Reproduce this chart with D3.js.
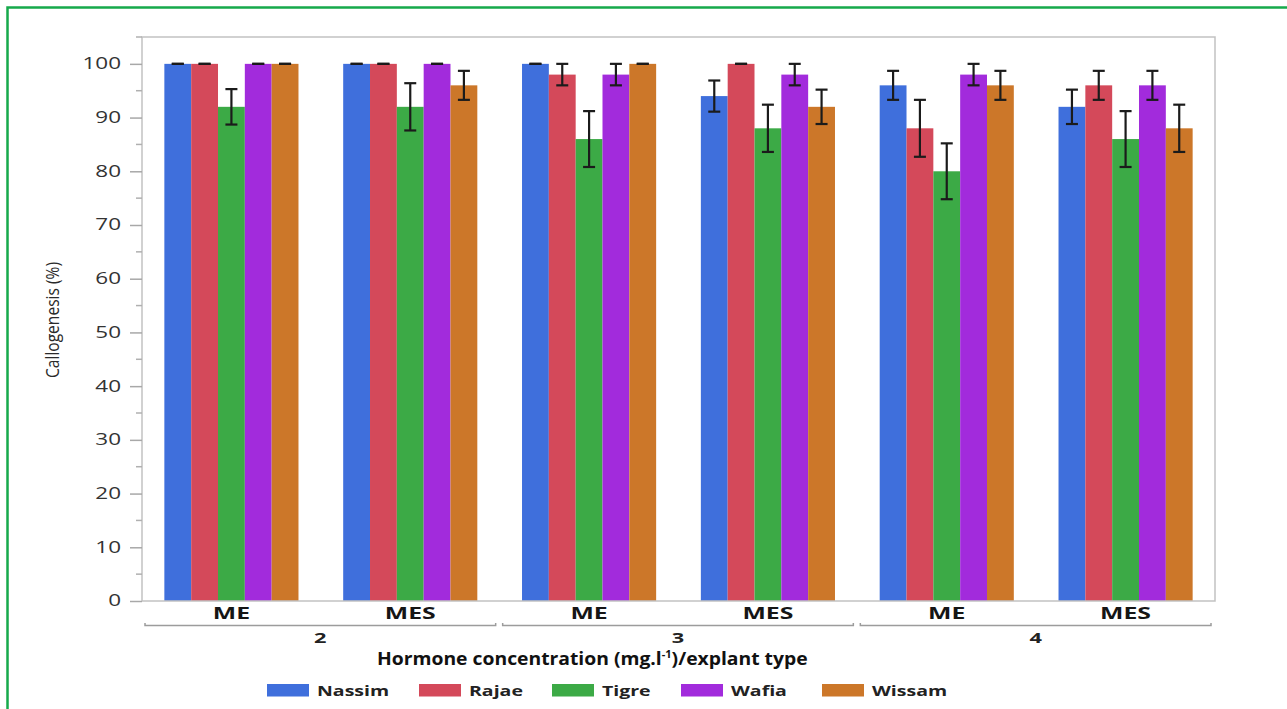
<!DOCTYPE html>
<html>
<head>
<meta charset="utf-8">
<script src="https://cdn.jsdelivr.net/npm/d3@7"></script>
<style>
  html, body { margin: 0; padding: 0; background: #fff; }
  svg { display: block; }
</style>
</head>
<body>
<svg id="chart" width="1287" height="709"></svg>
<script>
// ---------------- DATA ----------------
const categoryLabels = ["ME", "MES", "ME", "MES", "ME", "MES"];
const categoryGroups = ["2", "2", "3", "3", "4", "4"];
const groups = ["2", "3", "4"];
const seriesNames = ["Nassim", "Rajae", "Tigre", "Wafia", "Wissam"];

const nassim = [100, 100, 100, 94, 96, 92];
const rajae  = [100, 100, 98, 100, 88, 96];
const tigre  = [92, 92, 86, 88, 80, 86];
const wafia  = [100, 100, 98, 98, 98, 96];
const wissam = [100, 96, 100, 92, 96, 88];

const nassimErr = [0, 0, 0, 2.9, 2.7, 3.2];
const rajaeErr  = [0, 0, 2, 0, 5.3, 2.7];
const tigreErr  = [3.3, 4.4, 5.2, 4.4, 5.2, 5.2];
const wafiaErr  = [0, 0, 2, 2, 2, 2.7];
const wissamErr = [0, 2.7, 0, 3.2, 2.7, 4.4];

const yTicks = [0, 10, 20, 30, 40, 50, 60, 70, 80, 90, 100];
const yMinorTicks = [5, 15, 25, 35, 45, 55, 65, 75, 85, 95, 105];

const yTitle = "Callogenesis (%)";
const xTitleA = "Hormone concentration (mg.l";
const xTitleSup = "-1";
const xTitleB = ")/explant type";

// --------------- LAYOUT / STYLE ---------------
(function () {
const colors = ["#3f6fdc", "#d4495a", "#3caa46", "#a22bdc", "#cc7729"];
const valuesBySeries = [nassim, rajae, tigre, wafia, wissam];
const errBySeries = [nassimErr, rajaeErr, tigreErr, wafiaErr, wissamErr];

const svg = d3.select("#chart");
const pL = 142, pR = 1215, pT = 37, pB = 601;
const FONT = "'Open Sans', 'DejaVu Sans', sans-serif";

function stretch(sel, f) {
  sel.each(function () {
    const w = this.getComputedTextLength();
    d3.select(this).attr("textLength", w * f).attr("lengthAdjust", "spacingAndGlyphs");
  });
}

// green outer frame
svg.append("rect")
  .attr("x", 7.5).attr("y", 7.5).attr("width", 1320).attr("height", 740)
  .attr("fill", "none").attr("stroke", "#16a94b").attr("stroke-width", 2.5);

const x0 = d3.scaleBand().domain(d3.range(categoryLabels.length))
  .range([pL, pR]).paddingInner(0.25).paddingOuter(0.125);
const x1 = d3.scaleBand().domain(d3.range(seriesNames.length))
  .range([0, x0.bandwidth()]).padding(0);
const y = d3.scaleLinear().domain([0, 105]).range([pB, pT]);

// bars
const gBars = svg.append("g");
valuesBySeries.forEach((vals, s) => {
  gBars.selectAll(null).data(vals).enter().append("rect")
    .attr("x", (d, i) => x0(i) + x1(s))
    .attr("y", d => y(d))
    .attr("width", x1.bandwidth())
    .attr("height", d => y(0) - y(d))
    .attr("fill", colors[s]);
});

// error bars
const capW = 12;
const gErr = svg.append("g").attr("stroke", "#1b1b1b").attr("stroke-width", 2.2);
valuesBySeries.forEach((vals, s) => {
  const errs = errBySeries[s];
  vals.forEach((v, i) => {
    const cx = x0(i) + x1(s) + x1.bandwidth() / 2;
    const hi = y(v + errs[i]), lo = y(v - errs[i]);
    gErr.append("line").attr("x1", cx).attr("x2", cx).attr("y1", hi).attr("y2", lo);
    gErr.append("line").attr("x1", cx - capW / 2).attr("x2", cx + capW / 2).attr("y1", hi).attr("y2", hi);
    gErr.append("line").attr("x1", cx - capW / 2).attr("x2", cx + capW / 2).attr("y1", lo).attr("y2", lo);
  });
});

// frame (axes box)
const frame = svg.append("g").attr("stroke", "#c2c2c2").attr("stroke-width", 1.5).attr("fill", "none");
frame.append("path").attr("d", `M${pL},${pT}H${pR}V${pB}H${pL}Z`);

// y axis
const yAxis = svg.append("g").attr("transform", `translate(${pL},0)`)
  .call(d3.axisLeft(y).tickValues(yTicks).tickSize(12).tickSizeOuter(0).tickPadding(9));
yAxis.select(".domain").remove();
yAxis.selectAll(".tick line").attr("stroke", "#a8a8a8").attr("stroke-width", 1.5);
yAxis.selectAll(".tick text")
  .attr("font-family", FONT).attr("font-size", 15.5).attr("fill", "#333")
  .call(stretch, 1.45);
svg.append("g").selectAll("line").data(yMinorTicks).enter().append("line")
  .attr("x1", pL - 6).attr("x2", pL)
  .attr("y1", d => y(d)).attr("y2", d => y(d))
  .attr("stroke", "#b0b0b0").attr("stroke-width", 1.5);

// category labels
svg.append("g").selectAll("text").data(categoryLabels).enter().append("text")
  .attr("x", (d, i) => x0(i) + x0.bandwidth() / 2)
  .attr("y", 619)
  .attr("text-anchor", "middle")
  .attr("font-family", FONT).attr("font-weight", 700).attr("font-size", 15.5)
  .attr("fill", "#151515")
  .text(d => d)
  .call(stretch, 1.6);

// group brackets
const step = x0.step();
groups.forEach((g) => {
  const idx = categoryGroups.map((c, i) => c === g ? i : -1).filter(i => i >= 0);
  const xa = pL + idx[0] * step + 3;
  const xb = pL + (idx[idx.length - 1] + 1) * step - 4;
  const gb = svg.append("g").attr("stroke", "#9c9c9c").attr("stroke-width", 1.5).attr("fill", "none");
  gb.append("path").attr("d", `M${xa},${623}V${625.5}H${xb}V${623}`);
  svg.append("text")
    .attr("x", (xa + xb) / 2).attr("y", 643)
    .attr("text-anchor", "middle")
    .attr("font-family", FONT).attr("font-weight", 700).attr("font-size", 14.5)
    .attr("fill", "#222")
    .text(g)
    .call(stretch, 1.5);
});

// x title
const xt = svg.append("g");
const xtText = xt.append("text")
  .attr("x", 0).attr("y", 0).attr("text-anchor", "start")
  .attr("font-family", FONT).attr("font-weight", 700).attr("font-size", 17.5)
  .attr("fill", "#111");
xtText.append("tspan").text(xTitleA);
xtText.append("tspan").attr("font-size", 10).attr("dy", -7).text(xTitleSup);
xtText.append("tspan").attr("dy", 7).text(xTitleB);
const xtW = xtText.node().getBBox().width;
const targetW = 431;
xt.attr("transform", `translate(${377},${665}) scale(${targetW / xtW},1)`);

// y title
svg.append("text")
  .attr("transform", `translate(59,${320}) rotate(-90)`)
  .attr("text-anchor", "middle")
  .attr("font-family", FONT).attr("font-size", 18)
  .attr("fill", "#2a2a2a")
  .attr("textLength", 116).attr("lengthAdjust", "spacingAndGlyphs")
  .text(yTitle);

// legend
const legendX = [267, 419, 552, 681, 822];
const lg = svg.append("g");
seriesNames.forEach((name, i) => {
  lg.append("rect")
    .attr("x", legendX[i]).attr("y", 684).attr("width", 42).attr("height", 12.5)
    .attr("fill", colors[i]);
  lg.append("text")
    .attr("x", legendX[i] + 50).attr("y", 696)
    .attr("font-family", FONT).attr("font-weight", 700).attr("font-size", 15)
    .attr("fill", "#222")
    .text(name)
    .call(stretch, 1.3);
});
})();
</script>
</body>
</html>
